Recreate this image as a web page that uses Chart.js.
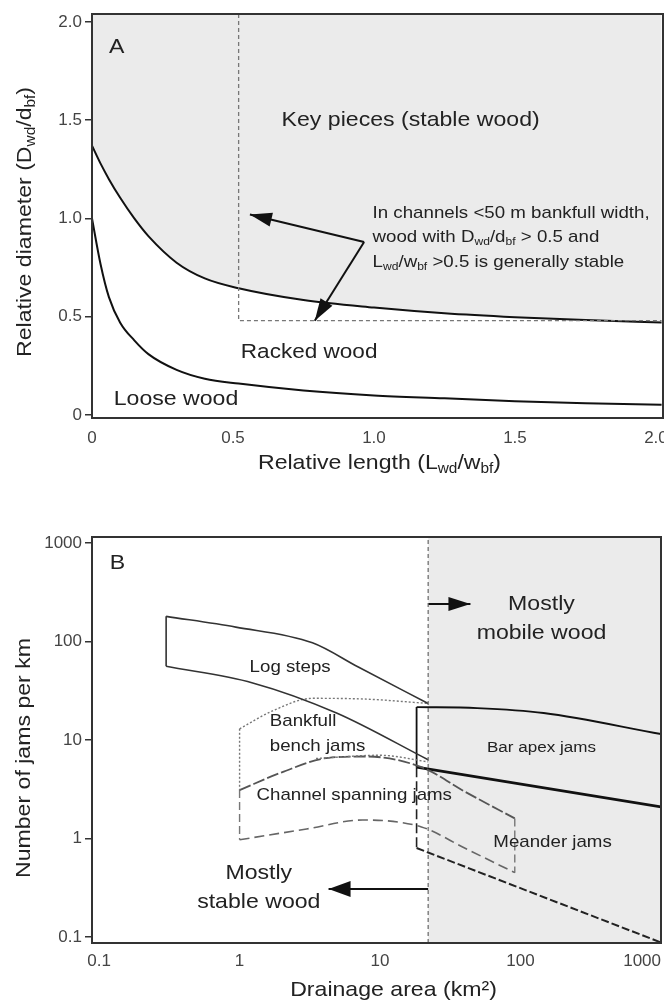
<!DOCTYPE html>
<html>
<head>
<meta charset="utf-8">
<script src="https://cdn.jsdelivr.net/npm/chart.js@4.4.1/dist/chart.umd.min.js"></script>
<style>
  html, body { margin: 0; padding: 0; background: #fff; overflow: hidden; }
  #wrap { position: relative; width: 664px; height: 1002px; }
  canvas { position: absolute; left: 0; }
</style>
</head>
<body>
<div id="wrap">
  <canvas id="panelA" width="664" height="480" style="top:0"></canvas>
  <canvas id="panelB" width="664" height="522" style="top:480px"></canvas>
</div>
<script>
// ---- panel A: relative length vs relative diameter ----
const lengthA = [0, 0.03, 0.06, 0.1, 0.15, 0.2, 0.3, 0.4, 0.52, 0.75, 1.0, 1.25, 1.5, 1.75, 2.02];
const keyPieceDiam = [1.37, 1.28, 1.2, 1.105, 1.0, 0.91, 0.775, 0.695, 0.645, 0.585, 0.547, 0.518, 0.498, 0.483, 0.471];
const looseDiam = [1.0, 0.77, 0.6, 0.47, 0.38, 0.31, 0.23, 0.185, 0.16, 0.125, 0.1, 0.085, 0.07, 0.06, 0.052];
const stableBoxX = [0.52, 0.52, 2.02];
const stableBoxY = [2.04, 0.48, 0.48];
const noteArrowUpX = [0.965, 0.56];
const noteArrowUpY = [0.88, 1.02];
const noteArrowDownX = [0.965, 0.79];
const noteArrowDownY = [0.88, 0.48];
const lengthTicks = [0, 0.5, 1, 1.5, 2];
const lengthLabels = ['0', '0.5', '1.0', '1.5', '2.0'];
const diamTicks = [0, 0.5, 1, 1.5, 2];
const diamLabels = ['0', '0.5', '1.0', '1.5', '2.0'];

// ---- panel B: drainage area vs jams per km ----
const areaMin = 0.089, areaMax = 1000, jamsMin = 0.0869, jamsMax = 1151;
const mobileLimit = 22;
const logStepsTopX = [0.3, 0.94, 3.3, 7.0, 22];
const logStepsTopY = [180, 140, 97, 55, 23.5];
const logStepsBotX = [0.3, 1.24, 4.9, 22];
const logStepsBotY = [56, 38, 18.8, 6.3];
const bankTopX = [1, 1.75, 3.3, 8, 22];
const bankTopY = [13, 20, 26.5, 26, 23.5];
const bankBotX = [3.5, 10, 22];
const bankBotY = [6.5, 7.0, 6.0];
const chanTopX = [1, 2, 4.3, 8, 19.7, 40, 91];
const chanTopY = [3.1, 4.7, 6.6, 6.8, 5.3, 3.0, 1.6];
const chanBotX = [1, 3, 7.5, 19.7, 40, 91];
const chanBotY = [0.97, 1.25, 1.54, 1.31, 0.8, 0.45];
const barTopX = [18.2, 49, 146, 1000];
const barTopY = [21.6, 21.1, 18.8, 11.5];
const barBotX = [18.2, 1000];
const barBotY = [5.3, 2.09];
const meanderBotX = [18.2, 1000];
const meanderBotY = [0.8, 0.088];
const mobileArrowX = [22, 44];
const mobileArrowY = [240, 240];
const stableArrowX = [22, 4.3];
const stableArrowY = [0.307, 0.307];
const areaTicks = [areaMin, 0.1, 1, 10, 100, 1000];
const areaLabels = ['', '0.1', '1', '10', '100', '1000'];
const jamTicks = [0.1, 1, 10, 100, 1000];
const jamLabels = ['0.1', '1', '10', '100', '1000'];

const FONT = '"Liberation Sans", Arial, sans-serif';
const STRETCH = 1.1;

function pts(xs, ys) {
  return xs.map((x, i) => ({ x: x, y: ys[i] }));
}

function seg(xs, ys, style) {
  return Object.assign({
    data: pts(xs, ys),
    showLine: true,
    pointRadius: 0,
    fill: false,
    borderColor: '#222',
    borderWidth: 1.6,
    cubicInterpolationMode: 'monotone'
  }, style);
}

function vert(x, y1, y2, style) {
  return seg([x, x], [y1, y2], Object.assign({ cubicInterpolationMode: 'default', tension: 0 }, style));
}

// text made of pieces, some of them sub/superscript
function drawParts(ctx, parts, x, y, size, align, rotate) {
  ctx.save();
  ctx.translate(x, y);
  if (rotate) ctx.rotate(-Math.PI / 2);
  ctx.scale(STRETCH, 1);
  const fontOf = k => (k ? Math.round(size * 0.66) : size) + 'px ' + FONT;
  const widths = parts.map(([t, k]) => { ctx.font = fontOf(k); return ctx.measureText(t).width; });
  const total = widths.reduce((s, w) => s + w, 0);
  let cx = align === 'left' ? 0 : align === 'right' ? -total : -total / 2;
  ctx.textAlign = 'left';
  ctx.textBaseline = 'middle';
  parts.forEach(([t, k], i) => {
    ctx.font = fontOf(k);
    ctx.fillText(t, cx, k === 'sub' ? size * 0.3 : k === 'sup' ? -size * 0.35 : 0);
    cx += widths[i];
  });
  ctx.restore();
}

const panelDecor = {
  id: 'panelDecor',
  afterDraw(chart, args, opts) {
    const { ctx, chartArea: a, scales: { x, y } } = chart;
    ctx.save();
    // arrow heads at the end of flagged datasets
    chart.data.datasets.forEach((ds, i) => {
      if (!ds.arrowHead) return;
      const p = chart.getDatasetMeta(i).data;
      const p1 = p[p.length - 2], p2 = p[p.length - 1];
      const ang = Math.atan2(p2.y - p1.y, p2.x - p1.x);
      const [len, w] = ds.arrowHead;
      const bx = p2.x - len * Math.cos(ang), by = p2.y - len * Math.sin(ang);
      ctx.fillStyle = ds.borderColor;
      ctx.beginPath();
      ctx.moveTo(p2.x, p2.y);
      ctx.lineTo(bx + w / 2 * Math.sin(ang), by - w / 2 * Math.cos(ang));
      ctx.lineTo(bx - w / 2 * Math.sin(ang), by + w / 2 * Math.cos(ang));
      ctx.closePath();
      ctx.fill();
    });
    // frame
    ctx.strokeStyle = '#333';
    ctx.lineWidth = 2;
    ctx.setLineDash([]);
    ctx.strokeRect(a.left, a.top, a.right - a.left, a.bottom - a.top);
    // labels in data space
    ctx.fillStyle = '#222';
    (opts.labels || []).forEach(l => {
      drawParts(ctx, l.parts, x.getPixelForValue(l.x), y.getPixelForValue(l.y), l.size, l.align || 'center');
    });
    // axis titles
    const xt = opts.xTitle, yt = opts.yTitle;
    drawParts(ctx, xt.parts, (a.left + a.right) / 2 + xt.dx, a.bottom + xt.dy, xt.size, 'center');
    drawParts(ctx, yt.parts, yt.x, (a.top + a.bottom) / 2 + yt.dy, yt.size, 'center', true);
    ctx.restore();
  }
};

const tickFont = { family: FONT, size: 17 };
// keep the plot box where the figure has it, whatever the edge labels need
const fixBox = (w, h) => s => {
  if (w) s.width = w;
  if (h) s.height = h;
  s.paddingLeft = 0; s.paddingRight = 0; s.paddingTop = 0; s.paddingBottom = 0;
};

// ---------- Panel A ----------
new Chart(document.getElementById('panelA'), {
  type: 'scatter',
  data: {
    datasets: [
      seg(lengthA, keyPieceDiam, { fill: 'end', backgroundColor: '#ebebeb', borderColor: '#111', borderWidth: 2, order: 10 }),
      seg(lengthA, looseDiam, { borderColor: '#111', borderWidth: 2 }),
      seg(stableBoxX, stableBoxY, { cubicInterpolationMode: 'default', tension: 0, borderColor: '#777', borderWidth: 1.3, borderDash: [4, 3] }),
      seg(noteArrowUpX, noteArrowUpY, { cubicInterpolationMode: 'default', borderColor: '#111', borderWidth: 2, arrowHead: [22, 14] }),
      seg(noteArrowDownX, noteArrowDownY, { cubicInterpolationMode: 'default', borderColor: '#111', borderWidth: 2, arrowHead: [22, 14] })
    ]
  },
  options: {
    responsive: false,
    animation: false,
    events: [],
    layout: { padding: { top: 14, right: 1, left: 0, bottom: 0 } },
    scales: {
      x: {
        type: 'linear',
        min: 0,
        max: 2.025,
        afterFit: fixBox(0, 62),
        afterBuildTicks: s => { s.ticks = lengthTicks.map(v => ({ value: v })); },
        grid: { display: false },
        border: { display: false },
        ticks: { autoSkip: false, maxRotation: 0, padding: 2, color: '#444', font: tickFont,
                 callback: (v, i) => lengthLabels[i] }
      },
      y: {
        type: 'linear',
        min: -0.015,
        max: 2.04,
        afterFit: fixBox(92, 0),
        afterBuildTicks: s => { s.ticks = diamTicks.map(v => ({ value: v })); },
        grid: { display: true, drawOnChartArea: false, drawTicks: true, tickLength: 7, color: '#333', lineWidth: 1.5 },
        border: { display: false },
        ticks: { autoSkip: false, padding: 3, color: '#444', font: tickFont,
                 callback: (v, i) => diamLabels[i] }
      }
    },
    plugins: {
      legend: { display: false },
      tooltip: { enabled: false },
      panelDecor: {
        labels: [
          { parts: [['A']], x: 0.06, y: 1.87, size: 21, align: 'left' },
          { parts: [['Key pieces (stable wood)']], x: 1.13, y: 1.5, size: 21 },
          { parts: [['In channels <50 m bankfull width,']], x: 0.995, y: 1.028, size: 17, align: 'left' },
          { parts: [['wood with D'], ['wd', 'sub'], ['/d'], ['bf', 'sub'], [' > 0.5 and']], x: 0.995, y: 0.906, size: 17, align: 'left' },
          { parts: [['L'], ['wd', 'sub'], ['/w'], ['bf', 'sub'], [' >0.5 is generally stable']], x: 0.995, y: 0.779, size: 17, align: 'left' },
          { parts: [['Racked wood']], x: 0.77, y: 0.32, size: 20.5 },
          { parts: [['Loose wood']], x: 0.298, y: 0.081, size: 21 }
        ],
        xTitle: { parts: [['Relative length (L'], ['wd', 'sub'], ['/w'], ['bf', 'sub'], [')']], dx: 2, dy: 45, size: 21 },
        yTitle: { parts: [['Relative diameter (D'], ['wd', 'sub'], ['/d'], ['bf', 'sub'], [')']], x: 25, dy: 6, size: 21 }
      }
    }
  },
  plugins: [panelDecor]
});

// ---------- Panel B ----------
new Chart(document.getElementById('panelB'), {
  type: 'scatter',
  data: {
    datasets: [
      seg([mobileLimit, areaMax], [jamsMax, jamsMax], { fill: 'start', backgroundColor: '#ebebeb', borderWidth: 0, cubicInterpolationMode: 'default', order: 10 }),
      vert(mobileLimit, jamsMin, jamsMax, { borderColor: '#666', borderWidth: 1.2, borderDash: [4, 3] }),
      // log steps
      seg(logStepsTopX, logStepsTopY, { borderColor: '#333' }),
      seg(logStepsBotX, logStepsBotY, { borderColor: '#333' }),
      vert(logStepsTopX[0], logStepsTopY[0], logStepsBotY[0], { borderColor: '#333' }),
      // bankfull bench jams
      seg(bankTopX, bankTopY, { borderColor: '#777', borderWidth: 1.4, borderDash: [2, 2] }),
      seg(bankBotX, bankBotY, { borderColor: '#777', borderWidth: 1.4, borderDash: [2, 2] }),
      vert(bankTopX[0], bankTopY[0], chanTopY[0], { borderColor: '#777', borderWidth: 1.4, borderDash: [2, 2] }),
      // channel spanning jams
      seg(chanTopX, chanTopY, { borderColor: '#555', borderWidth: 1.8, borderDash: [12, 3] }),
      seg(chanBotX, chanBotY, { borderColor: '#666', borderWidth: 1.6, borderDash: [10, 5] }),
      vert(chanTopX[0], chanTopY[0], chanBotY[0], { borderColor: '#777', borderWidth: 1.4, borderDash: [8, 4] }),
      vert(chanTopX[chanTopX.length - 1], chanTopY[chanTopY.length - 1], chanBotY[chanBotY.length - 1], { borderColor: '#777', borderWidth: 1.4, borderDash: [8, 4] }),
      // bar apex jams
      seg(barTopX, barTopY, { borderColor: '#111', borderWidth: 1.8 }),
      seg(barBotX, barBotY, { borderColor: '#111', borderWidth: 2.8, cubicInterpolationMode: 'default' }),
      vert(barTopX[0], barTopY[0], barBotY[0], { borderColor: '#111', borderWidth: 1.8 }),
      vert(areaMax, barTopY[barTopY.length - 1], barBotY[barBotY.length - 1], { borderColor: '#111', borderWidth: 1.8 }),
      // meander jams
      seg(meanderBotX, meanderBotY, { borderColor: '#222', borderWidth: 2, borderDash: [8, 3], cubicInterpolationMode: 'default' }),
      vert(meanderBotX[0], barBotY[0], meanderBotY[0], { borderColor: '#222', borderWidth: 1.6, borderDash: [10, 4] }),
      // arrows
      seg(mobileArrowX, mobileArrowY, { cubicInterpolationMode: 'default', borderColor: '#111', borderWidth: 2, arrowHead: [22, 14] }),
      seg(stableArrowX, stableArrowY, { cubicInterpolationMode: 'default', borderColor: '#111', borderWidth: 2, arrowHead: [22, 16] })
    ]
  },
  options: {
    responsive: false,
    animation: false,
    events: [],
    layout: { padding: { top: 57, right: 3, left: 0, bottom: 0 } },
    scales: {
      x: {
        type: 'logarithmic',
        min: areaMin,
        max: areaMax,
        afterFit: fixBox(0, 59),
        afterBuildTicks: s => { s.ticks = areaTicks.map(v => ({ value: v })); },
        grid: { display: false },
        border: { display: false },
        ticks: { autoSkip: false, maxRotation: 0, padding: 0, align: 'inner', color: '#444', font: tickFont,
                 callback: (v, i) => areaLabels[i] }
      },
      y: {
        type: 'logarithmic',
        min: jamsMin,
        max: jamsMax,
        afterFit: fixBox(92, 0),
        afterBuildTicks: s => { s.ticks = jamTicks.map(v => ({ value: v })); },
        grid: { display: true, drawOnChartArea: false, drawTicks: true, tickLength: 7, color: '#333', lineWidth: 1.5 },
        border: { display: false },
        ticks: { autoSkip: false, padding: 3, color: '#444', font: tickFont,
                 callback: (v, i) => jamLabels[i] }
      }
    },
    plugins: {
      legend: { display: false },
      tooltip: { enabled: false },
      panelDecor: {
        labels: [
          { parts: [['B']], x: 0.119, y: 627, size: 21, align: 'left' },
          { parts: [['Mostly']], x: 141, y: 240, size: 21 },
          { parts: [['mobile wood']], x: 141, y: 122, size: 21 },
          { parts: [['Log steps']], x: 2.29, y: 55, size: 17 },
          { parts: [['Bankfull']], x: 1.64, y: 15.6, size: 17, align: 'left' },
          { parts: [['bench jams']], x: 1.64, y: 8.7, size: 17, align: 'left' },
          { parts: [['Channel spanning jams']], x: 1.32, y: 2.77, size: 17, align: 'left' },
          { parts: [['Bar apex jams']], x: 141, y: 8.3, size: 15.5 },
          { parts: [['Meander jams']], x: 169, y: 0.92, size: 17 },
          { parts: [['Mostly']], x: 1.37, y: 0.447, size: 21 },
          { parts: [['stable wood']], x: 1.37, y: 0.226, size: 21 }
        ],
        xTitle: { parts: [['Drainage area (km\u00b2)']], dx: 17, dy: 47, size: 21 },
        yTitle: { parts: [['Number of jams per km']], x: 24, dy: 18, size: 21 }
      }
    }
  },
  plugins: [panelDecor]
});
</script>
</body>
</html>
